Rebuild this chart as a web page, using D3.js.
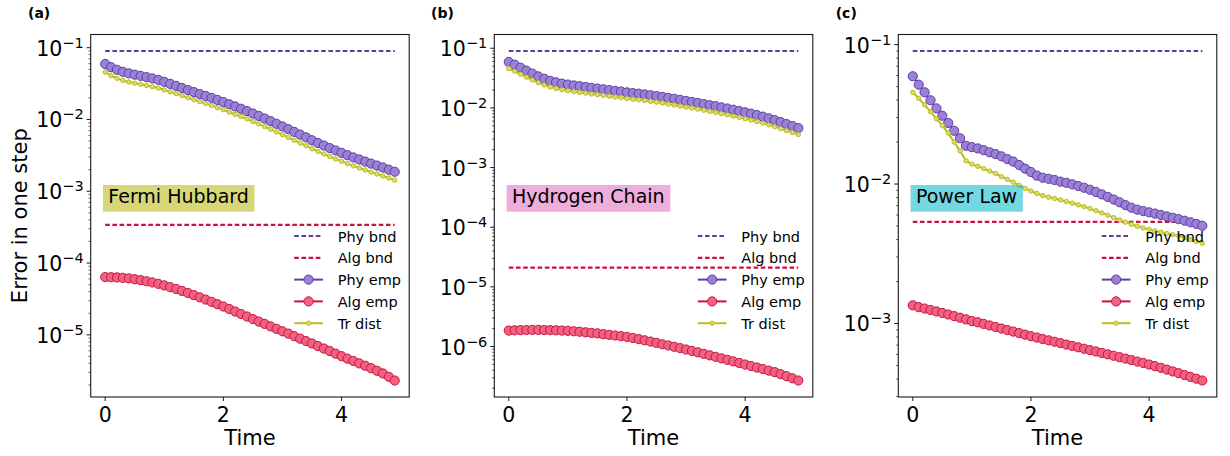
<!DOCTYPE html>
<html><head><meta charset="utf-8">
<script src="https://cdn.jsdelivr.net/npm/d3@7"></script>
<style>body{margin:0;background:#fff}svg{display:block}text{font-family:"DejaVu Sans",sans-serif;fill:#000}</style>
</head><body><svg id="chart" width="1230" height="456"></svg>
<script>
// ---------- data ----------
const time = [0,0.1,0.2,0.3,0.4,0.5,0.6,0.7,0.8,0.9,1.0,1.1,1.2,1.3,1.4,1.5,1.6,1.7,1.8,1.9,2.0,2.1,2.2,2.3,2.4,2.5,2.6,2.7,2.8,2.9,3.0,3.1,3.2,3.3,3.4,3.5,3.6,3.7,3.8,3.9,4.0,4.1,4.2,4.3,4.4,4.5,4.6,4.7,4.8,4.9];
const xTicks = [0, 2, 4];
const panelTags = ["(a)", "(b)", "(c)"];
const panelNames = ["Fermi Hubbard", "Hydrogen Chain", "Power Law"];
const legendLabels = ["Phy bnd", "Alg bnd", "Phy emp", "Alg emp", "Tr dist"];

// Fermi Hubbard
const fhPhyBnd = 0.09;
const fhAlgBnd = 3.4e-4;
const fhPhyEmp = [0.0594,0.0535,0.0492,0.0461,0.0439,0.0421,0.0405,0.0389,0.0373,0.0356,0.0335,0.0314,0.0294,0.0275,0.0257,0.0241,0.0226,0.0213,0.0200,0.0187,0.0175,0.0163,0.0152,0.0141,0.0131,0.0121,0.0112,0.0103,0.00948,0.00871,0.00800,0.00733,0.00671,0.00615,0.00564,0.00513,0.00471,0.00434,0.00400,0.00370,0.00343,0.00318,0.00296,0.00277,0.00259,0.00243,0.00228,0.00214,0.00200,0.00187];
const fhAlgEmp = [6.38e-5,6.35e-5,6.31e-5,6.22e-5,6.11e-5,5.96e-5,5.78e-5,5.58e-5,5.37e-5,5.13e-5,4.88e-5,4.61e-5,4.36e-5,4.09e-5,3.83e-5,3.57e-5,3.33e-5,3.10e-5,2.88e-5,2.67e-5,2.48e-5,2.29e-5,2.11e-5,1.95e-5,1.80e-5,1.66e-5,1.53e-5,1.42e-5,1.31e-5,1.21e-5,1.12e-5,1.04e-5,9.57e-6,8.85e-6,8.18e-6,7.57e-6,6.98e-6,6.44e-6,5.94e-6,5.47e-6,5.04e-6,4.66e-6,4.32e-6,4.00e-6,3.71e-6,3.43e-6,3.16e-6,2.90e-6,2.60e-6,2.31e-6];
const fhTrDist = [0.0457,0.0407,0.0374,0.0349,0.0333,0.0320,0.0309,0.0298,0.0286,0.0274,0.0259,0.0243,0.0229,0.0215,0.0201,0.0189,0.0177,0.0167,0.0157,0.0146,0.0137,0.0127,0.0118,0.0110,0.0102,0.00938,0.00867,0.00795,0.00731,0.00671,0.00614,0.00562,0.00514,0.00470,0.00431,0.00392,0.00360,0.00331,0.00305,0.00282,0.00262,0.00243,0.00226,0.00211,0.00198,0.00185,0.00174,0.00163,0.00153,0.00143];

// Hydrogen Chain
const hcPhyBnd = 0.09;
const hcAlgBnd = 2.1e-5;
const hcPhyEmp = [5.90e-2,5.30e-2,4.72e-2,4.20e-2,3.75e-2,3.37e-2,3.08e-2,2.84e-2,2.68e-2,2.55e-2,2.46e-2,2.38e-2,2.31e-2,2.24e-2,2.17e-2,2.11e-2,2.05e-2,1.99e-2,1.93e-2,1.88e-2,1.82e-2,1.77e-2,1.73e-2,1.68e-2,1.63e-2,1.58e-2,1.53e-2,1.47e-2,1.42e-2,1.36e-2,1.31e-2,1.26e-2,1.21e-2,1.16e-2,1.11e-2,1.07e-2,1.02e-2,9.77e-3,9.31e-3,8.87e-3,8.43e-3,8.00e-3,7.57e-3,7.13e-3,6.68e-3,6.24e-3,5.79e-3,5.37e-3,4.97e-3,4.59e-3];
const hcAlgEmp = [1.85e-6,1.87e-6,1.88e-6,1.89e-6,1.90e-6,1.90e-6,1.89e-6,1.88e-6,1.87e-6,1.85e-6,1.83e-6,1.80e-6,1.77e-6,1.73e-6,1.69e-6,1.66e-6,1.61e-6,1.57e-6,1.53e-6,1.49e-6,1.45e-6,1.39e-6,1.33e-6,1.27e-6,1.21e-6,1.15e-6,1.09e-6,1.04e-6,9.89e-7,9.40e-7,8.91e-7,8.43e-7,7.98e-7,7.53e-7,7.11e-7,6.71e-7,6.32e-7,5.97e-7,5.62e-7,5.30e-7,4.99e-7,4.71e-7,4.44e-7,4.19e-7,3.94e-7,3.72e-7,3.44e-7,3.18e-7,2.93e-7,2.69e-7];
const hcTrDist = [4.58e-2,4.11e-2,3.67e-2,3.28e-2,2.93e-2,2.65e-2,2.42e-2,2.24e-2,2.12e-2,2.01e-2,1.94e-2,1.88e-2,1.82e-2,1.77e-2,1.71e-2,1.67e-2,1.62e-2,1.57e-2,1.52e-2,1.49e-2,1.44e-2,1.40e-2,1.37e-2,1.33e-2,1.29e-2,1.25e-2,1.21e-2,1.16e-2,1.12e-2,1.07e-2,1.03e-2,9.94e-3,9.53e-3,9.13e-3,8.72e-3,8.40e-3,8.00e-3,7.65e-3,7.28e-3,6.93e-3,6.58e-3,6.24e-3,5.90e-3,5.55e-3,5.20e-3,4.85e-3,4.50e-3,4.17e-3,3.86e-3,3.57e-3];

// Power Law
const plPhyBnd = 0.09;
const plAlgBnd = 5.36e-3;
const plPhyEmp = [5.93e-2,5.16e-2,4.55e-2,3.99e-2,3.49e-2,3.09e-2,2.74e-2,2.41e-2,2.13e-2,1.88e-2,1.84e-2,1.80e-2,1.75e-2,1.69e-2,1.64e-2,1.58e-2,1.51e-2,1.45e-2,1.37e-2,1.29e-2,1.22e-2,1.15e-2,1.11e-2,1.09e-2,1.07e-2,1.04e-2,1.02e-2,9.95e-3,9.68e-3,9.40e-3,9.10e-3,8.77e-3,8.43e-3,8.09e-3,7.74e-3,7.40e-3,7.06e-3,6.76e-3,6.55e-3,6.40e-3,6.27e-3,6.14e-3,6.00e-3,5.86e-3,5.73e-3,5.60e-3,5.46e-3,5.32e-3,5.18e-3,5.02e-3];
const plAlgEmp = [1.35e-3,1.31e-3,1.28e-3,1.25e-3,1.22e-3,1.19e-3,1.16e-3,1.13e-3,1.10e-3,1.07e-3,1.04e-3,1.02e-3,9.93e-4,9.68e-4,9.44e-4,9.20e-4,8.97e-4,8.75e-4,8.53e-4,8.32e-4,8.11e-4,7.93e-4,7.74e-4,7.57e-4,7.40e-4,7.23e-4,7.06e-4,6.90e-4,6.75e-4,6.59e-4,6.44e-4,6.30e-4,6.15e-4,6.01e-4,5.87e-4,5.73e-4,5.60e-4,5.47e-4,5.33e-4,5.21e-4,5.08e-4,4.94e-4,4.81e-4,4.67e-4,4.53e-4,4.40e-4,4.27e-4,4.14e-4,4.02e-4,3.90e-4];
const plTrDist = [4.55e-2,4.12e-2,3.70e-2,3.30e-2,2.94e-2,2.63e-2,2.32e-2,2.00e-2,1.73e-2,1.47e-2,1.39e-2,1.34e-2,1.29e-2,1.24e-2,1.19e-2,1.13e-2,1.08e-2,1.03e-2,9.77e-3,9.31e-3,8.91e-3,8.55e-3,8.26e-3,8.05e-3,7.87e-3,7.69e-3,7.50e-3,7.29e-3,7.10e-3,6.89e-3,6.67e-3,6.44e-3,6.21e-3,5.98e-3,5.75e-3,5.53e-3,5.33e-3,5.14e-3,4.98e-3,4.84e-3,4.72e-3,4.61e-3,4.51e-3,4.42e-3,4.33e-3,4.24e-3,4.12e-3,4.00e-3,3.88e-3,3.76e-3];

// ---------- styling ----------
const COL = {
  phy: "#5b3fa3", phyFill: "#9b80d6",
  alg: "#c9123f", algFill: "#f0627f",
  tr: "#bcbd22", trFill: "#dcdc6a"
};
const boxColors = ["#bcbd22", "#e377c2", "#17becf"];

const panels = [
  {phyBnd: fhPhyBnd, algBnd: fhAlgBnd, phyEmp: fhPhyEmp, algEmp: fhAlgEmp, trDist: fhTrDist},
  {phyBnd: hcPhyBnd, algBnd: hcAlgBnd, phyEmp: hcPhyEmp, algEmp: hcAlgEmp, trDist: hcTrDist},
  {phyBnd: plPhyBnd, algBnd: plAlgBnd, phyEmp: plPhyEmp, algEmp: plAlgEmp, trDist: plTrDist}
];

const svg = d3.select("#chart");
const lefts = [90.7, 494.3, 898.3];
const axW = 318.5, axTop = 34.5, axBot = 397;
const tagX = [28, 431, 835.7];
const BIG = 4.6, SMALL = 2.2, DASH = "4.6,2.6";

panels.forEach((p, i) => {
  const L = lefts[i], R = L + axW;
  const g = svg.append("g");

  const tx = d3.extent(time), tp = (tx[1] - tx[0]) * 0.05;
  const x = d3.scaleLinear().domain([tx[0] - tp, tx[1] + tp]).range([L, R]);

  const all = [p.phyBnd, p.algBnd, ...p.phyEmp, ...p.algEmp, ...p.trDist];
  const lo = Math.log10(d3.min(all)), hi = Math.log10(d3.max(all));
  const pad = (hi - lo) * 0.05;
  const y = d3.scaleLog().domain([Math.pow(10, lo - pad), Math.pow(10, hi + pad)]).range([axBot, axTop]);

  const clipId = "clip" + i;
  svg.append("clipPath").attr("id", clipId).append("rect")
    .attr("x", L).attr("y", axTop).attr("width", axW).attr("height", axBot - axTop);
  const plot = g.append("g").attr("clip-path", `url(#${clipId})`);

  const line = d3.line().x(d => x(d[0])).y(d => y(d[1]));

  [[p.phyBnd, COL.phy], [p.algBnd, COL.alg]].forEach(([v, c]) => {
    plot.append("path").attr("d", line(time.map(t => [t, v])))
      .attr("fill", "none").attr("stroke", c).attr("stroke-width", 2.2)
      .attr("stroke-dasharray", DASH);
  });

  const series = [
    {vals: p.phyEmp, c: COL.phy, f: COL.phyFill, r: BIG},
    {vals: p.algEmp, c: COL.alg, f: COL.algFill, r: BIG},
    {vals: p.trDist, c: COL.tr, f: COL.trFill, r: SMALL}
  ];
  series.forEach(s => {
    const pts = time.map((t, k) => [t, s.vals[k]]);
    plot.append("path").attr("d", line(pts)).attr("fill", "none")
      .attr("stroke", s.c).attr("stroke-width", 2);
    plot.selectAll(null).data(pts).enter().append("circle")
      .attr("cx", d => x(d[0])).attr("cy", d => y(d[1])).attr("r", s.r)
      .attr("fill", s.f).attr("stroke", s.c).attr("stroke-width", 1);
  });

  g.append("rect").attr("x", L).attr("y", axTop).attr("width", axW).attr("height", axBot - axTop)
    .attr("fill", "none").attr("stroke", "#1a1a1a").attr("stroke-width", 1.1);

  xTicks.forEach(t => {
    g.append("line").attr("x1", x(t)).attr("x2", x(t)).attr("y1", axBot).attr("y2", axBot + 4)
      .attr("stroke", "#1a1a1a").attr("stroke-width", 1);
    g.append("text").attr("x", x(t)).attr("y", axBot + 24.5).attr("text-anchor", "middle")
      .attr("font-size", 20.5).text(t);
  });
  g.append("text").attr("x", (L + R) / 2).attr("y", 445).attr("text-anchor", "middle")
    .attr("font-size", 21).text("Time");

  const [d0, d1] = y.domain();
  const eLo = Math.floor(Math.log10(d0)), eHi = Math.ceil(Math.log10(d1));
  for (let e = eLo; e <= eHi; e++) {
    for (let k = 1; k <= 9; k++) {
      const v = k * Math.pow(10, e);
      if (v < d0 || v > d1) continue;
      const yy = y(v);
      if (k === 1) {
        g.append("line").attr("x1", L - 4).attr("x2", L).attr("y1", yy).attr("y2", yy)
          .attr("stroke", "#1a1a1a").attr("stroke-width", 1);
        const t = g.append("text").attr("x", L - 7).attr("y", yy + 8).attr("text-anchor", "end")
          .attr("font-size", 20.5);
        t.append("tspan").text("10");
        t.append("tspan").attr("dy", -8).attr("font-size", 14.5).text("\u2212" + Math.abs(e));
      } else {
        g.append("line").attr("x1", L - 2.2).attr("x2", L).attr("y1", yy).attr("y2", yy)
          .attr("stroke", "#1a1a1a").attr("stroke-width", 0.7);
      }
    }
  }

  const ann = g.append("g");
  const txt = ann.append("text").attr("x", L + 17.6).attr("y", 202.7).attr("font-size", 19)
    .text(panelNames[i]);
  const bb = txt.node().getBBox();
  ann.insert("rect", "text").attr("x", L + 12.3).attr("y", 185).attr("width", bb.width + 11)
    .attr("height", 26.7).attr("fill", boxColors[i]).attr("fill-opacity", 0.6);

  const lx = R - 115, lw = 28.7;
  const legItems = [
    {c: COL.phy, dash: true},
    {c: COL.alg, dash: true},
    {c: COL.phy, f: COL.phyFill, r: BIG},
    {c: COL.alg, f: COL.algFill, r: BIG},
    {c: COL.tr, f: COL.trFill, r: SMALL}
  ];
  legItems.forEach((it, k) => {
    const ly = 236 + k * 21.8;
    g.append("line").attr("x1", lx).attr("x2", lx + lw).attr("y1", ly).attr("y2", ly)
      .attr("stroke", it.c).attr("stroke-width", it.dash ? 2.2 : 2)
      .attr("stroke-dasharray", it.dash ? DASH : null);
    if (!it.dash) {
      g.append("circle").attr("cx", lx + lw / 2).attr("cy", ly).attr("r", it.r)
        .attr("fill", it.f).attr("stroke", it.c).attr("stroke-width", 1);
    }
    g.append("text").attr("x", lx + 43.5).attr("y", ly + 5.5).attr("font-size", 14.5)
      .text(legendLabels[k]);
  });

  svg.append("text").attr("x", tagX[i]).attr("y", 17.5).attr("font-size", 14)
    .attr("font-weight", "bold").text(panelTags[i]);
});

svg.append("text").attr("transform", "translate(26.5,215.7) rotate(-90)")
  .attr("text-anchor", "middle").attr("font-size", 21).text("Error in one step");
</script></body></html>
